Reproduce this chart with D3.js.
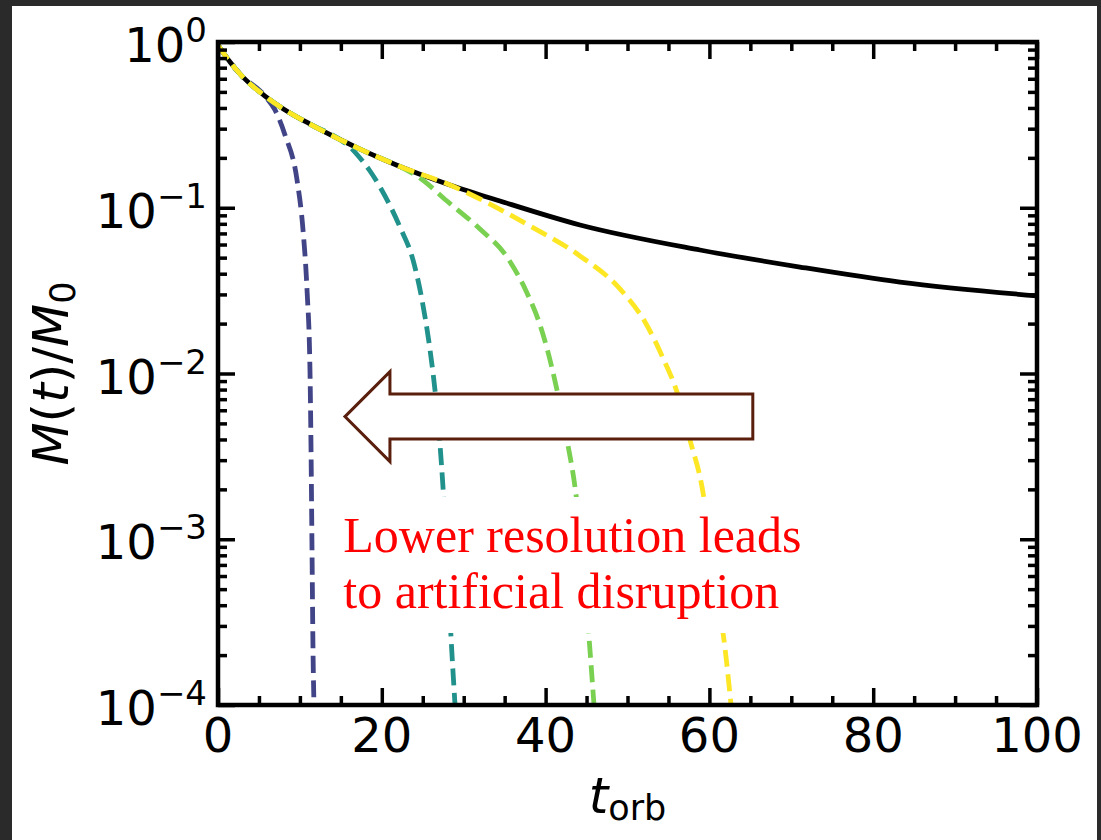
<!DOCTYPE html>
<html>
<head>
<meta charset="utf-8">
<script src="https://cdn.jsdelivr.net/npm/d3@7"></script>
<style>
  html, body { margin: 0; padding: 0; background: #2a2a2a; }
  svg { display: block; }
</style>
</head>
<body>
<svg id="chart" width="1101" height="840"></svg>
<script>
// ---- data ---------------------------------------------------------------
const xTicksMajor = [0, 20, 40, 60, 80, 100];
const xTicksMinor = [5, 10, 15, 25, 30, 35, 45, 50, 55, 65, 70, 75, 85, 90, 95];
const yExponents = [0, -1, -2, -3, -4];

// converged (solid black) mass-loss track
const tConverged = [0, 1.47, 2.69, 5.74, 8.79, 11.23, 14.9, 17.34, 19.78, 22.22, 28.33, 34.43, 44.2, 58.85, 71.06, 83.27, 100];
const mConverged = [0.959, 0.757, 0.641, 0.472, 0.373, 0.32, 0.258, 0.226, 0.1996, 0.1774, 0.1372, 0.1098, 0.0787, 0.0556, 0.0439, 0.0356, 0.0294];

// runs at increasing resolution (dashed)
const tRun1 = [0, 1.47, 2.69, 5.74, 6.96, 8.18, 9.65, 10.38, 10.87, 11.23, 11.36, 11.48, 11.6, 11.72];
const mRun1 = [0.959, 0.757, 0.641, 0.472, 0.389, 0.275, 0.147, 0.0735, 0.0319, 0.0105, 0.00345, 0.00086, 0.000215, 0.0001];

const tRun2 = [0, 1.47, 2.69, 5.74, 8.79, 11.23, 14.9, 16.12, 17.34, 18.56, 19.78, 22.22, 23.81, 24.91, 25.89, 26.62, 27.11, 27.47, 27.96, 28.45, 28.94];
const mRun2 = [0.959, 0.757, 0.641, 0.472, 0.373, 0.32, 0.258, 0.2325, 0.1996, 0.1666, 0.1334, 0.0765, 0.0484, 0.0278, 0.01386, 0.00692, 0.0037, 0.002066, 0.000749, 0.000257, 0.0001];

const tRun3 = [0, 1.47, 2.69, 5.74, 8.79, 11.23, 14.9, 17.34, 19.78, 22.22, 24.66, 27.96, 31.99, 35.29, 37.73, 39.32, 40.29, 41.39, 42.61, 43.59, 44.57, 45.3, 45.91];
const mRun3 = [0.959, 0.757, 0.641, 0.472, 0.373, 0.32, 0.258, 0.226, 0.1996, 0.1774, 0.1512, 0.1098, 0.0744, 0.0504, 0.0306, 0.01962, 0.01348, 0.00795, 0.00397, 0.002066, 0.000749, 0.000257, 0.0001];

const tRun4 = [0, 1.47, 2.69, 5.74, 8.79, 11.23, 14.9, 17.34, 19.78, 22.22, 28.33, 31.99, 38.1, 44.2, 49.08, 52.14, 54.33, 56.04, 57.63, 59.1, 60.32, 61.29, 62.03, 62.64];
const mRun4 = [0.959, 0.757, 0.641, 0.472, 0.373, 0.32, 0.258, 0.226, 0.1996, 0.1774, 0.1372, 0.1129, 0.0776, 0.0512, 0.0324, 0.02045, 0.0124, 0.00773, 0.00397, 0.002066, 0.000804, 0.000374, 0.000195, 0.0001];

const runColors = ["#414487", "#21918c", "#7ad151", "#fde725"];

// annotation
const noteLines = ["Lower resolution leads", "to artificial disruption"];

// ---- layout -------------------------------------------------------------
const svg = d3.select("#chart");
const W = 1101, H = 840;
const plot = { left: 218, right: 1037, top: 42, bottom: 705 };

const x = d3.scaleLinear().domain([0, 100]).range([plot.left, plot.right]);
const y = d3.scaleLog().domain([1e-4, 1]).range([plot.bottom, plot.top]);

// white page on dark backdrop
svg.append("rect").attr("width", W).attr("height", H).attr("fill", "#2a2a2a");
svg.append("rect").attr("x", 12).attr("y", 6).attr("width", 1085).attr("height", 834).attr("fill", "#ffffff");

// clip for curves
svg.append("clipPath").attr("id", "plotClip")
  .append("rect")
  .attr("x", plot.left).attr("y", plot.top)
  .attr("width", plot.right - plot.left).attr("height", plot.bottom - plot.top);

const curves = svg.append("g").attr("clip-path", "url(#plotClip)");
const line = d3.line().x(d => x(d[0])).y(d => y(d[1])).curve(d3.curveMonotoneX);

curves.append("path")
  .attr("d", line(d3.zip(tConverged, mConverged)))
  .attr("fill", "none").attr("stroke", "#000").attr("stroke-width", 4.8);

const runs = [[tRun1, mRun1], [tRun2, mRun2], [tRun3, mRun3], [tRun4, mRun4]];
runs.forEach(([ts, ms], i) => {
  curves.append("path")
    .attr("d", line(d3.zip(ts, ms)))
    .attr("fill", "none")
    .attr("stroke", runColors[i])
    .attr("stroke-width", 4.8)
    .attr("stroke-dasharray", "17,7.5");
});

// ---- axes (ticks point inward on all four sides) --------------------------
const majorLen = 17, minorLen = 9;
const yMajor = yExponents.map(e => Math.pow(10, e));
const yMinor = [];
for (let e = -4; e < 0; e++) for (let k = 2; k <= 9; k++) yMinor.push(k * Math.pow(10, e));

function styleAxis(g) {
  g.select(".domain").remove();
  g.selectAll(".tick line").attr("stroke", "#000").attr("stroke-width", 3.5);
  g.selectAll(".tick text").remove();
}

const axes = svg.append("g");
axes.append("g").attr("transform", `translate(0,${plot.bottom})`)
  .call(d3.axisBottom(x).tickValues(xTicksMajor).tickSize(-majorLen).tickSizeOuter(0)).call(styleAxis);
axes.append("g").attr("transform", `translate(0,${plot.bottom})`)
  .call(d3.axisBottom(x).tickValues(xTicksMinor).tickSize(-minorLen).tickSizeOuter(0)).call(styleAxis);
axes.append("g").attr("transform", `translate(0,${plot.top})`)
  .call(d3.axisTop(x).tickValues(xTicksMajor).tickSize(-majorLen).tickSizeOuter(0)).call(styleAxis);
axes.append("g").attr("transform", `translate(0,${plot.top})`)
  .call(d3.axisTop(x).tickValues(xTicksMinor).tickSize(-minorLen).tickSizeOuter(0)).call(styleAxis);
axes.append("g").attr("transform", `translate(${plot.left},0)`)
  .call(d3.axisLeft(y).tickValues(yMajor).tickSize(-majorLen).tickSizeOuter(0)).call(styleAxis);
axes.append("g").attr("transform", `translate(${plot.left},0)`)
  .call(d3.axisLeft(y).tickValues(yMinor).tickSize(-minorLen).tickSizeOuter(0)).call(styleAxis);
axes.append("g").attr("transform", `translate(${plot.right},0)`)
  .call(d3.axisRight(y).tickValues(yMajor).tickSize(-majorLen).tickSizeOuter(0)).call(styleAxis);
axes.append("g").attr("transform", `translate(${plot.right},0)`)
  .call(d3.axisRight(y).tickValues(yMinor).tickSize(-minorLen).tickSizeOuter(0)).call(styleAxis);

// frame
svg.append("rect")
  .attr("x", plot.left).attr("y", plot.top)
  .attr("width", plot.right - plot.left).attr("height", plot.bottom - plot.top)
  .attr("fill", "none").attr("stroke", "#000").attr("stroke-width", 4.5);

// tick labels
const tickFont = "'DejaVu Sans', sans-serif";
const tickSize = 48;
svg.append("g").selectAll("text").data(xTicksMajor).join("text")
  .attr("x", d => x(d)).attr("y", plot.bottom + 47)
  .attr("text-anchor", "middle")
  .attr("font-family", tickFont).attr("font-size", tickSize).attr("fill", "#000")
  .text(d => d);

const yl = svg.append("g").selectAll("text").data(yExponents).join("text")
  .attr("x", 207).attr("y", d => y(Math.pow(10, d)) + 20)
  .attr("text-anchor", "end")
  .attr("font-family", tickFont).attr("font-size", tickSize).attr("fill", "#000");
yl.append("tspan").text("10");
yl.append("tspan").attr("font-size", 34).attr("dy", -20)
  .text(d => d === 0 ? "0" : "\u2212" + Math.abs(d));

// axis titles
const xt = svg.append("text")
  .attr("x", (plot.left + plot.right) / 2).attr("y", 813)
  .attr("text-anchor", "middle")
  .attr("font-family", tickFont).attr("font-size", 50).attr("fill", "#000");
xt.append("tspan").attr("font-style", "italic").text("t");
xt.append("tspan").attr("font-size", 35).attr("dy", 7).text("orb");

const yt = svg.append("text")
  .attr("transform", `translate(68,${(plot.top + plot.bottom) / 2}) rotate(-90)`)
  .attr("text-anchor", "middle")
  .attr("font-family", tickFont).attr("font-size", 50).attr("fill", "#000");
yt.append("tspan").attr("font-style", "italic").text("M");
yt.append("tspan").text("(");
yt.append("tspan").attr("font-style", "italic").text("t");
yt.append("tspan").text(")/");
yt.append("tspan").attr("font-style", "italic").text("M");
yt.append("tspan").attr("font-size", 35).attr("dy", 7).text("0");

// ---- annotation: arrow and note ----------------------------------------
const arrowTipT = 15.5, arrowTailT = 65.3, arrowM = Math.pow(10, -2.26);
const ax0 = x(arrowTipT), ax1 = x(arrowTailT), ay = y(arrowM);
const shaftHalf = 22.5, headHalf = 45, headLen = 45;
const arrowPts = [
  [ax0, ay],
  [ax0 + headLen, ay - headHalf],
  [ax0 + headLen, ay - shaftHalf],
  [ax1, ay - shaftHalf],
  [ax1, ay + shaftHalf],
  [ax0 + headLen, ay + shaftHalf],
  [ax0 + headLen, ay + headHalf]
];
svg.append("polygon")
  .attr("points", arrowPts.map(p => p.join(",")).join(" "))
  .attr("fill", "#ffffff").attr("stroke", "#5a1e0c").attr("stroke-width", 3)
  .attr("stroke-linejoin", "miter");

const noteT = 15.3, noteM = Math.pow(10, -3.077);
const noteBox = svg.append("rect").attr("fill", "#ffffff");
const note = svg.append("text")
  .attr("x", x(noteT)).attr("y", y(noteM))
  .attr("font-family", "'Liberation Serif', 'Times New Roman', serif")
  .attr("font-size", 50).attr("fill", "#ff0000");
note.selectAll("tspan").data(noteLines).join("tspan")
  .attr("x", x(noteT)).attr("dy", (d, i) => i === 0 ? 0 : 56)
  .text(d => d);
const bb = note.node().getBBox();
noteBox.attr("x", bb.x - 8).attr("y", bb.y - 10)
  .attr("width", bb.width + 16).attr("height", bb.height + 24);
</script>
</body>
</html>
